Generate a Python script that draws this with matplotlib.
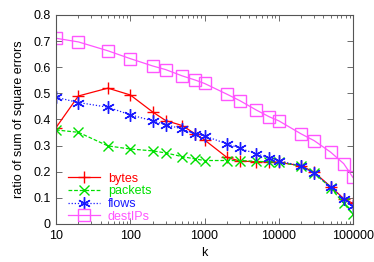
import matplotlib
matplotlib.use("Agg")
import matplotlib.pyplot as plt
from matplotlib.ticker import LogLocator, FixedLocator, NullFormatter

plt.rcParams['font.family'] = ['Liberation Sans', 'DejaVu Sans']

k = [10, 20, 50, 100, 200, 300, 500, 750, 1000, 2000, 3000, 5000, 7500,
     10000, 20000, 30000, 50000, 75000, 100000]

bytes_err = [0.369, 0.49, 0.52, 0.494, 0.429, 0.396, 0.377, 0.345, 0.322, 0.255,
             0.241, 0.238, 0.239, 0.236, 0.223, 0.198, 0.143, 0.097, 0.079]
packets_err = [0.36, 0.351, 0.299, 0.287, 0.28, 0.272, 0.258, 0.249, 0.243, 0.243,
               0.243, 0.24, 0.238, 0.236, 0.222, 0.196, 0.138, 0.079, 0.038]
flows_err = [0.485, 0.465, 0.447, 0.418, 0.395, 0.38, 0.364, 0.345, 0.337, 0.307,
             0.29, 0.268, 0.254, 0.243, 0.221, 0.194, 0.143, 0.096, 0.069]
destips_err = [0.711, 0.697, 0.663, 0.633, 0.605, 0.591, 0.567, 0.551, 0.538, 0.497,
               0.472, 0.436, 0.41, 0.395, 0.345, 0.319, 0.275, 0.231, 0.178]

fig = plt.figure(figsize=(3.74, 2.62), dpi=100)
ax = fig.add_axes([56 / 374, 1 - 224 / 262, (353 - 56) / 374, (224 - 15) / 262])

ax.plot(k, bytes_err, color='#ff0000', lw=0.9, ls='-', marker='+', ms=9, mew=1.0, label='bytes')
ax.plot(k, packets_err, color='#00e000', lw=0.9, ls=(0, (3, 1.5)), marker='x', ms=7, mew=1.0, label='packets')
ax.plot(k, flows_err, color='#1a1aff', lw=0.9, ls=(0, (1, 1.5)), marker=(6, 2, 0), ms=9, mew=1.0, label='flows')
ax.plot(k, destips_err, color='#ff55ff', lw=0.9, ls='-', marker='s', ms=8.5, mew=1.0,
        mfc='none', label='destIPs')

ax.set_xscale('log')
ax.set_xlim(10, 100000)
ax.set_ylim(0, 0.8)
ax.yaxis.set_major_locator(FixedLocator([0, 0.1, 0.2, 0.3, 0.4, 0.5, 0.6, 0.7, 0.8]))
ax.set_yticklabels(['0', '0.1', '0.2', '0.3', '0.4', '0.5', '0.6', '0.7', '0.8'])
ax.xaxis.set_major_locator(FixedLocator([10, 100, 1000, 10000, 100000]))
ax.set_xticklabels(['10', '100', '1000', '10000', '100000'])
ax.xaxis.set_minor_locator(LogLocator(base=10, subs=range(2, 10)))
ax.xaxis.set_minor_formatter(NullFormatter())

ax.tick_params(which='both', direction='in', top=True, right=True, labelsize=9, pad=4)
ax.tick_params(which='major', length=4, width=0.6, color='#555555')
ax.tick_params(which='minor', length=2, width=0.6, color='#555555')
for s in ax.spines.values():
    s.set_color('#555555')
    s.set_linewidth(0.8)

ax.set_xlabel('k', fontsize=9, labelpad=4)
ax.set_ylabel('ratio of sum of square errors', fontsize=9, labelpad=6)

leg = ax.legend(loc='lower left', bbox_to_anchor=(0.01, -0.035), frameon=False, fontsize=9,
                handlelength=2.6, handletextpad=0.6, labelspacing=0.05, borderaxespad=0.3)
for t, l in zip(leg.get_texts(), leg.get_lines()):
    t.set_color(l.get_color())

fig.savefig('out.png', dpi=100)
